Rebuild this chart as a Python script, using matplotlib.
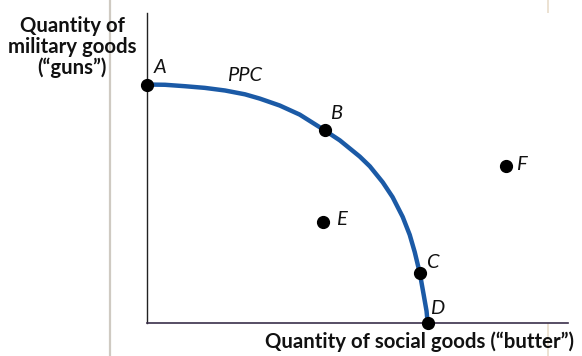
import matplotlib
matplotlib.use("Agg")
import matplotlib.pyplot as plt
from matplotlib.lines import Line2D

# PPC curve points (butter, guns)
curve_x = [0.0, 0.64, 1.35, 2.06, 2.78, 3.49, 4.02, 4.73, 5.44, 6.33, 6.87, 7.58,
           7.94, 8.40, 8.75, 9.11, 9.36, 9.54, 9.72, 9.86, 9.96, 10.0]
curve_y = [10.0, 9.99, 9.93, 9.86, 9.75, 9.59, 9.41, 9.12, 8.74, 8.08, 7.66, 6.98,
           6.57, 5.90, 5.28, 4.45, 3.70, 2.97, 2.09, 1.17, 0.50, 0.0]

# Labelled points
point_names = ["A", "B", "C", "D", "E", "F"]
point_x = [0.0, 6.33, 9.72, 10.0, 6.26, 12.78]
point_y = [10.0, 8.08, 2.09, 0.0, 4.23, 6.57]
label_offsets = [(13, 17), (11, 17), (13, 11), (9, 14), (19, 3), (16, 2)]

x_label = "Quantity of social goods (\u201cbutter\u201d)"
y_label = "Quantity of\nmilitary goods\n(\u201cguns\u201d)"
curve_label = "PPC"

W, H = 582, 356
fig = plt.figure(figsize=(W / 100, H / 100), dpi=100)
ax = fig.add_axes([147 / W, (H - 323) / H, (568 - 147) / W, 310 / H])
ax.set_xlim(0, 15)
ax.set_ylim(0, 13)
ax.set_xticks([])
ax.set_yticks([])
for s in ["top", "right"]:
    ax.spines[s].set_visible(False)
ax.spines["left"].set_linewidth(1.0)
ax.spines["left"].set_color("#222222")
ax.spines["bottom"].set_linewidth(1.2)
ax.spines["bottom"].set_color("#3a2f4a")

ax.plot(curve_x, curve_y, color="#1b5aa6", lw=3.2, solid_capstyle="round",
        solid_joinstyle="round", zorder=3, clip_on=False)
ax.plot(point_x, point_y, "o", color="black", ms=8.5, zorder=4, clip_on=False)

fam = ["Lato", "DejaVu Sans"]
for n, x, y, (dx, dy) in zip(point_names, point_x, point_y, label_offsets):
    ax.annotate(n, (x, y), xytext=(dx, dy), textcoords="offset pixels",
                ha="center", va="center", fontsize=14.5, fontstyle="italic",
                family=fam, color="#111111")

ax.text(3.49, 10.38, curve_label, ha="center", va="center", fontsize=14.5,
        fontstyle="italic", family=fam, color="#111111")

fig.text(574 / W, 1 - 342 / H, x_label, ha="right", va="center",
         fontsize=14.7, fontweight="bold", family=fam, color="#111111")
fig.text(72 / W, 1 - 47 / H, y_label, ha="center", va="center",
         fontsize=14.7, fontweight="bold", family=fam, color="#111111",
         linespacing=1.05)

# faint vertical page lines visible in the scan
fig.add_artist(Line2D([110 / W, 110 / W], [0, 1], color="#cfcac2", lw=1.6, zorder=0))
fig.add_artist(Line2D([548 / W, 548 / W], [0, 1], color="#ece2d2", lw=1.4, zorder=0))

fig.savefig("out.png", dpi=100)
